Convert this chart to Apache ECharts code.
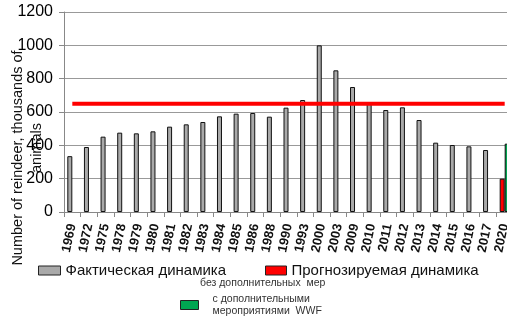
<!DOCTYPE html>
<html>
<head>
<meta charset="utf-8">
<script src="https://cdn.jsdelivr.net/npm/echarts@6/dist/echarts.min.js"></script>
<style>
  html, body { margin: 0; padding: 0; background: #fff; }
  #chart { width: 507px; height: 318px; }
</style>
</head>
<body>
<div id="chart"></div>
<script>
// годы (категории оси X)
var years = ['1969', '1972', '1975', '1978', '1979', '1980', '1981', '1982', '1983', '1984',
  '1985', '1986', '1988', '1990', '1993', '2000', '2003', '2009', '2010', '2011',
  '2012', '2013', '2014', '2015', '2016', '2017', '2020'];
// фактическая динамика, тыс. голов
var actual = [335, 390, 452, 476, 472, 484, 512, 526, 540, 574,
  590, 594, 572, 626, 672, 1000, 850, 750, 648, 612,
  628, 552, 416, 402, 394, 372, null];
// прогноз без дополнительных мер
var forecastNoMeasures = [null, null, null, null, null, null, null, null, null, null,
  null, null, null, null, null, null, null, null, null, null,
  null, null, null, null, null, null, 200];
// прогноз с мероприятиями WWF
var forecastWWF = [null, null, null, null, null, null, null, null, null, null,
  null, null, null, null, null, null, null, null, null, null,
  null, null, null, null, null, null, 410];
// горизонтальная линия (порог)
var threshold = years.map(function () { return 650; });
var yTicks = [0, 200, 400, 600, 800, 1000, 1200];

var chart = echarts.init(document.getElementById('chart'), null, { renderer: 'canvas' });

var font = 'Arial, "Liberation Sans", sans-serif';

var option = {
  animation: false,
  textStyle: { fontFamily: font },
  grid: {
    left: 64,
    top: 12,
    right: -6,     // последняя категория обрезана краем картинки
    bottom: 106,
    outerBoundsMode: 'none',
    containLabel: false
  },
  legend: [
    {
      data: ['Фактическая динамика'],
      left: 38,
      top: 263,
      padding: 0,
      icon: 'rect',
      itemWidth: 22,
      itemHeight: 9,
      selectedMode: false,
      itemStyle: { borderColor: '#222', borderWidth: 1 },
      textStyle: { fontSize: 15, color: '#111', fontFamily: font }
    },
    {
      data: ['Прогнозируемая динамика'],
      left: 265,
      top: 263,
      padding: 0,
      icon: 'rect',
      itemWidth: 21,
      itemHeight: 9,
      selectedMode: false,
      itemStyle: { borderColor: '#222', borderWidth: 1 },
      textStyle: { fontSize: 15, color: '#111', fontFamily: font }
    },
    {
      data: ['с дополнительными\nмероприятиями  WWF'],
      left: 180,
      top: 293,
      padding: 0,
      icon: 'rect',
      itemWidth: 18,
      itemHeight: 9,
      selectedMode: false,
      itemStyle: { borderColor: '#222', borderWidth: 1 },
      textStyle: { fontSize: 10.5, color: '#333', fontFamily: font, lineHeight: 12, padding: [0, 0, 0, 9] }
    }
  ],
  graphic: [
    {
      type: 'text',
      left: 200,
      top: 278,
      style: { text: 'без дополнительных  мер', font: '10.5px ' + font, fill: '#333' }
    },
    {
      type: 'text',
      x: 18,
      y: 158,
      rotation: Math.PI / 2,
      style: {
        text: 'Number of reindeer, thousands of',
        font: '14.5px ' + font,
        fill: '#111',
        align: 'center',
        verticalAlign: 'middle'
      }
    },
    {
      type: 'text',
      x: 37,
      y: 148,
      rotation: Math.PI / 2,
      style: {
        text: 'animals',
        font: '14.5px ' + font,
        fill: '#111',
        align: 'center',
        verticalAlign: 'middle'
      }
    }
  ],
  xAxis: {
    type: 'category',
    data: years,
    axisLine: { lineStyle: { color: '#888', width: 1 } },
    axisTick: { show: true, length: 5, lineStyle: { color: '#888' } },
    axisLabel: {
      rotate: 78,
      interval: 0,
      fontSize: 13,
      fontWeight: 'bold',
      color: '#111',
      margin: 12
    }
  },
  yAxis: {
    type: 'value',
    min: 0,
    max: 1200,
    interval: 200,
    axisLine: { show: true, lineStyle: { color: '#888' } },
    axisTick: { show: true, length: 5, lineStyle: { color: '#888' } },
    splitLine: { lineStyle: { color: '#999', width: 1 } },
    axisLabel: {
      fontSize: 16,
      color: '#000',
      margin: 11,
      formatter: function (v) { return yTicks.indexOf(v) >= 0 ? String(v) : ''; }
    }
  },
  series: [
    {
      name: 'Фактическая динамика',
      type: 'bar',
      stack: 'main',
      data: actual,
      barWidth: 5,
      barGap: '0%',
      itemStyle: { color: '#a9a9a9', borderColor: '#111', borderWidth: 1 }
    },
    {
      name: 'Прогнозируемая динамика',
      type: 'bar',
      stack: 'main',
      data: forecastNoMeasures,
      barWidth: 5,
      itemStyle: { color: '#ff0000', borderColor: '#111', borderWidth: 1 }
    },
    {
      name: 'с дополнительными\nмероприятиями  WWF',
      type: 'bar',
      data: forecastWWF,
      barWidth: 5,
      barGap: '0%',
      itemStyle: { color: '#00a651', borderColor: '#111', borderWidth: 1 }
    },
    {
      name: 'Порог',
      type: 'line',
      data: threshold,
      symbol: 'none',
      lineStyle: { color: '#ff0000', width: 4 },
      z: 5
    }
  ]
};

chart.setOption(option);
</script>
</body>
</html>
